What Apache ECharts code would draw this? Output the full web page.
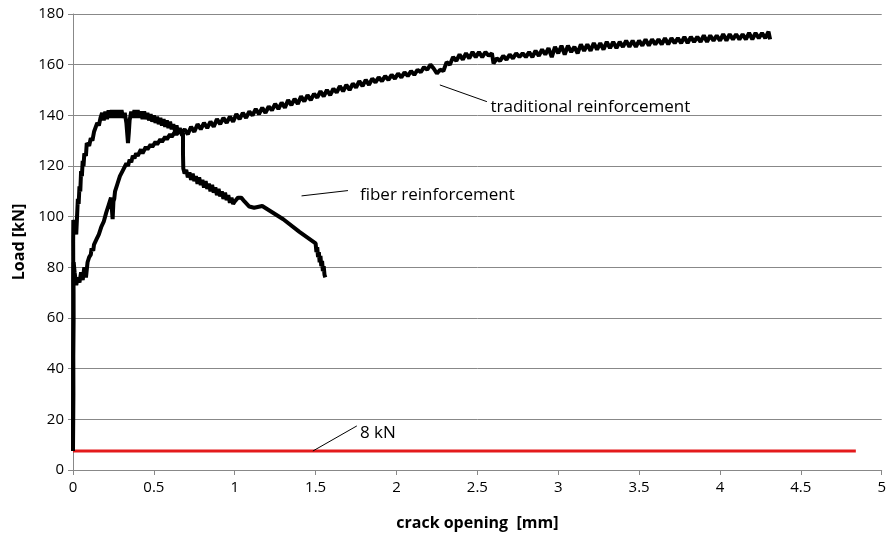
<!DOCTYPE html>
<html><head><meta charset="utf-8">
<script src="https://cdn.jsdelivr.net/npm/echarts@6/dist/echarts.min.js"></script>
<style>html,body{margin:0;padding:0;background:#fff}#c{width:889px;height:539px}</style>
</head><body><div id="c"></div>
<script>
// x ticks / y ticks
const xTicks = [0,0.5,1,1.5,2,2.5,3,3.5,4,4.5,5];
const yTicks = [0,20,40,60,80,100,120,140,160,180];

// traditional reinforcement: [crack opening mm, load kN]
const traditional = [
[0,7.5],[0.002,30],[0.001,45],[0.003,60],[0.002,75],[0.004,82],[0.01,78],[0.02,73],[0.03,76],[0.04,74],[0.05,78],[0.06,75],[0.07,80],[0.08,76],[0.09,82],
[0.1,84],[0.11,85],[0.115,87.5],[0.125,86.5],[0.13,89],[0.14,88.5],[0.145,91],[0.155,90.5],[0.16,93],[0.17,93],[0.175,96],[0.185,95.5],[0.19,98],[0.2,98.5],[0.205,101.5],[0.215,101.5],[0.22,104.5],[0.23,104],[0.235,107.5],[0.245,99],[0.25,106],[0.255,107],[0.26,110],[0.27,110],[0.275,113],[0.285,113],[0.29,116],[0.3,115.5],[0.31,118.5],[0.32,118],[0.33,121],[0.34,120],[0.35,122.5],[0.36,121.5],[0.37,124],[0.38,123],[0.39,125],[0.4,124],[0.42,126.5],[0.43,125],[0.45,127.5],[0.46,126.5],[0.48,128.5],[0.49,127.5],[0.51,129.5],[0.52,128.5],[0.54,130.5],[0.55,129.5],[0.57,131.5],[0.58,130.5],[0.6,132.5],[0.61,131.5],[0.63,133.5],[0.64,132.5],[0.66,134],[0.67,133],[0.69,134.5],
[0.71,132.5],[0.73,135.5],[0.75,133.5],[0.77,136.5],[0.79,134.5],[0.81,137],[0.83,135],[0.85,137.5],[0.87,135.5],[0.89,138.5],[0.91,136.5],[0.93,139],[0.95,137],[0.97,139.5],[0.99,137.5],[1.01,140.5],[1.03,138.5],[1.05,141],[1.07,139],[1.09,141.5],[1.11,140],[1.13,142.5],[1.15,140.5],[1.17,143],[1.19,141],[1.21,143.5],[1.23,142],[1.25,144.5],[1.27,142.5],[1.29,145],[1.31,143],[1.33,146],[1.35,144],[1.37,146.5],[1.39,144.5],[1.41,147.5],[1.43,145.5],[1.45,148],[1.47,146],[1.49,148.5],[1.51,147],[1.53,149.5],[1.55,147.5],[1.57,150],[1.59,148],[1.61,150.5],[1.63,149],[1.65,151.5],[1.67,149.5],[1.69,152],[1.71,150],[1.73,152.5],[1.75,151],[1.77,153.5],[1.79,151.5],[1.81,154],[1.83,152],[1.85,154.5],[1.87,153],[1.89,155],[1.91,153.5],[1.93,155.5],[1.95,154],[1.97,156],[1.99,154.5],[2.01,156.5],[2.03,155],[2.05,157],[2.07,155.5],[2.09,157.5],[2.11,156],[2.13,158],[2.15,157],[2.17,159],[2.19,158],[2.21,160],[2.23,158.5],[2.25,156.5],[2.27,158],[2.29,157.5],[2.31,161],[2.33,160],[2.35,163],[2.37,161.5],[2.39,164],[2.41,162],[2.43,164.5],[2.45,162.5],[2.47,165],[2.49,163],[2.51,165],[2.53,163],[2.55,165],[2.57,163.5],[2.59,164.5],[2.6,160.5],[2.62,162.5],[2.64,161.5],[2.66,163.5],[2.68,162],[2.7,164],[2.72,162.5],[2.74,164.5],[2.76,163],[2.78,164.5],[2.8,163],[2.82,165],[2.84,163],[2.86,165.5],[2.88,163.5],[2.9,166],[2.92,164],[2.94,166.5],[2.96,163],[2.98,167],[3.0,164.5],[3.02,167.5],[3.04,164],[3.06,167.5],[3.08,165],[3.1,167],[3.12,164.5],[3.14,168],[3.16,165.5],[3.18,168],[3.2,165.5],[3.22,168.5],[3.24,166],[3.26,168.5],[3.28,166],[3.3,169],[3.32,166.5],[3.34,169],[3.36,166.5],[3.38,169],[3.4,167],[3.42,169.5],[3.44,167],[3.46,169.5],[3.48,167],[3.5,169.5],[3.52,167.5],[3.54,170],[3.56,167.5],[3.58,170],[3.6,168],[3.62,170],[3.64,168],[3.66,170.5],[3.68,168],[3.7,170.5],[3.72,168.5],[3.74,170.5],[3.76,168.5],[3.78,171],[3.8,168.5],[3.82,171],[3.84,169],[3.86,171],[3.88,169],[3.9,171.5],[3.92,169],[3.94,171.5],[3.96,169.5],[3.98,171.5],[4.0,169.5],[4.02,172],[4.04,169.5],[4.06,172],[4.08,170],[4.1,172],[4.12,170],[4.14,172],[4.16,170],[4.18,172.5],[4.2,170],[4.22,172.5],[4.24,170.5],[4.26,172.5],[4.28,170.5],[4.3,173],[4.31,170]
];

// fiber reinforcement: [crack opening mm, load kN]
const fiber = [
[0,7.5],[0.001,40],[0.002,70],[0.001,90],[0.002,98.7],[0.01,96],[0.02,93],[0.025,100],[0.03,107],[0.035,105],[0.04,112],[0.045,110],[0.05,118],[0.055,116],[0.06,122],[0.065,120],[0.07,125],[0.08,124],[0.085,129],[0.1,128],[0.11,131],[0.12,130],[0.13,133.5],[0.14,133],[0.15,137],[0.16,136],[0.17,139],
[0.18,141],[0.19,138],[0.2,141.5],[0.21,138.5],[0.22,142],[0.23,139],[0.24,142],[0.25,139],[0.26,142],[0.27,139],[0.28,142],[0.29,139],[0.3,142],[0.31,139],[0.32,141],[0.33,137],[0.34,129],[0.345,133],[0.35,138],[0.36,141.5],[0.37,139],[0.38,142],[0.39,139],[0.4,142],[0.41,139],[0.42,141.5],[0.43,138.5],[0.44,141.5],[0.45,138.5],[0.46,141],[0.47,138],[0.48,140.5],[0.49,137.5],[0.5,140],[0.51,137],[0.52,139.5],[0.53,136.5],[0.54,139],[0.55,136],[0.56,138.5],[0.57,135.5],[0.58,138],[0.59,135],[0.6,137.5],[0.61,134.5],[0.62,136.5],[0.63,134],[0.64,136],[0.65,133],[0.66,135],[0.675,132],[0.68,133],[0.68,125],[0.682,119],[0.69,117],
[0.7,118.5],[0.71,115.5],[0.72,117.5],[0.73,114.5],[0.74,117],[0.75,114],[0.76,116],[0.77,113],[0.78,115.5],[0.79,112.5],[0.8,114.5],[0.81,111.5],[0.82,114],[0.83,111],[0.84,113],[0.85,110],[0.86,112.5],[0.87,109.5],[0.88,111.5],[0.89,108.5],[0.9,111],[0.91,108],[0.92,110],[0.93,107],[0.94,109.5],[0.95,106.5],[0.96,108.5],[0.97,105.5],[0.98,107.5],[0.99,105],[1.0,106],[1.02,107.5],[1.04,107.5],[1.06,106],[1.09,104],[1.12,103.5],[1.17,104.2],[1.3,99],[1.4,94],[1.5,89.5],[1.505,86],[1.51,88],[1.515,84],[1.52,86],[1.525,82],[1.53,84.5],[1.535,80.5],[1.54,82.5],[1.545,78.5],[1.55,80.5],[1.555,77],[1.56,76]
];

// 8 kN reference line
const limit8 = [[0,7.5],[4.84,7.5]];

// annotations: leader start, leader end, text position (data coords)
const annTexts = ['traditional reinforcement','fiber reinforcement','8 kN'];
const annLeaders = [[[2.268,152],[2.559,145.4]],[[1.413,108.2],[1.70,110.3]],[[1.483,7.5],[1.755,17.4]]];
const annPos = [[2.581,143.3],[1.774,108.6],[1.774,14.6]];

const FONT = 'Open Sans';
const chart = echarts.init(document.getElementById('c'), null, {renderer:'canvas'});
const gridColor = '#888888';
const series = [
  {type:'line', data:traditional, showSymbol:false, lineStyle:{color:'#000', width:4}, silent:true, z:3},
  {type:'line', data:fiber, showSymbol:false, lineStyle:{color:'#000', width:4}, silent:true, z:3},
  {type:'line', data:limit8, showSymbol:false, lineStyle:{color:'#e41a1c', width:3}, silent:true, z:2}
];
annLeaders.forEach(l => series.push({type:'line', data:l, showSymbol:false, lineStyle:{color:'#000', width:1}, silent:true, z:4}));

chart.setOption({
  animation:false,
  grid:{left:73, right:7, top:14, bottom:69, containLabel:false},
  xAxis:{type:'value', min:0, max:5, interval:0.5,
    name:'crack opening  [mm]', nameLocation:'middle', nameGap:45,
    nameTextStyle:{fontFamily:FONT, fontWeight:'bold', fontSize:16, color:'#000'},
    axisLine:{lineStyle:{color:gridColor}}, axisTick:{show:true, length:5, lineStyle:{color:gridColor}},
    axisLabel:{fontFamily:FONT, fontSize:15, color:'#000', margin:10, formatter:v=>String(v)},
    splitLine:{show:false}},
  yAxis:{type:'value', min:0, max:180, interval:20,
    name:'Load [kN]', nameLocation:'middle', nameGap:46,
    nameTextStyle:{fontFamily:FONT, fontWeight:'bold', fontSize:16, color:'#000'},
    axisLine:{show:true, lineStyle:{color:gridColor}}, axisTick:{show:true, length:5, lineStyle:{color:gridColor}},
    axisLabel:{fontFamily:FONT, fontSize:15, color:'#000', margin:9},
    splitLine:{show:true, lineStyle:{color:gridColor, width:1}}},
  series: series
});

const g = annTexts.map((t,i) => {
  const p = chart.convertToPixel({gridIndex:0}, annPos[i]);
  return {type:'text', x:p[0], y:p[1], style:{text:t, fontFamily:FONT, fontSize:17, fill:'#000', verticalAlign:'middle', align:'left'}, z:10};
});
chart.setOption({graphic:g});
</script></body></html>
